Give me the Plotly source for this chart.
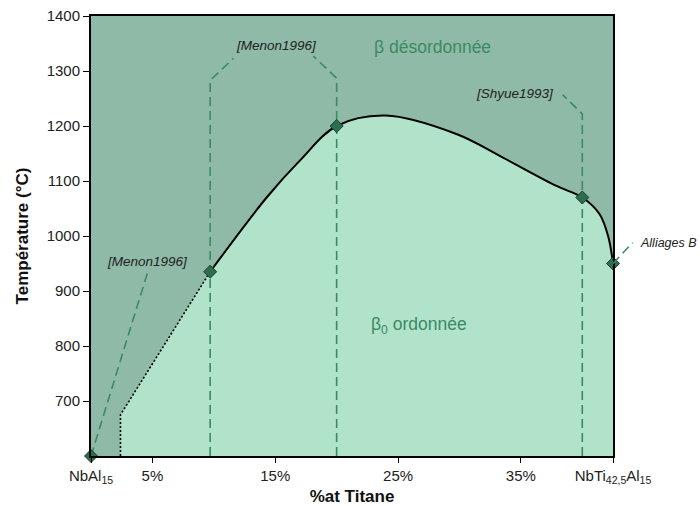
import plotly.graph_objects as go

# Boundary between disordered beta and ordered beta0 (%at Ti, temperature in degC)
curve_x = [9.7, 14.3, 17.0, 20.0, 24.0, 29.8, 33.5, 37.9, 40.0, 41.4, 42.1, 42.5]
curve_t = [935, 1070, 1137, 1200, 1219, 1185, 1143, 1091, 1070, 1040, 1000, 950]

# Extrapolated low-titanium part of the boundary
dotted_x = [2.4, 2.4, 9.7]
dotted_t = [600, 675, 935]

# Measured points
point_x = [0, 9.7, 20, 40, 42.5]
point_t = [600, 935, 1200, 1070, 950]

# Reference callouts: dashed guide polylines and their labels
guide_menon_low_x = [0, 4.6]
guide_menon_low_t = [600, 933]
guide_menon_a_x = [9.7, 9.7, 11.6]
guide_menon_a_t = [600, 1283, 1323]
guide_menon_b_x = [20, 20, 18.1]
guide_menon_b_t = [600, 1287, 1327]
guide_shyue_x = [40, 40, 38.4]
guide_shyue_t = [600, 1222, 1257]
guide_alloys_x = [42.5, 44.1]
guide_alloys_t = [950, 988]

x_tickvals = [0, 5, 15, 25, 35, 42.5]
x_ticktext = ["NbAl<sub>15</sub>", "5%", "15%", "25%", "35%", "NbTi<sub>42,5</sub>Al<sub>15</sub>"]
y_tickvals = [700, 800, 900, 1000, 1100, 1200, 1300, 1400]

X_MIN, X_MAX = 0, 42.5
T_MIN, T_MAX = 600, 1400

DARK_BG = "#8fbaa7"
LIGHT_FILL = "#b1e3cb"
GUIDE = "#3a8a64"
MARK = "#2b6e50"
FONT = "Liberation Sans, Arial, sans-serif"

fig = go.Figure()

# ordered region (light) under the boundary
fig.add_trace(go.Scatter(x=dotted_x, y=dotted_t, mode="lines", fill="tozeroy",
                         fillcolor=LIGHT_FILL, line=dict(color="black", width=1.6, dash="2px,2px"),
                         hoverinfo="skip"))
fig.add_trace(go.Scatter(x=curve_x, y=curve_t, mode="lines", fill="tozeroy",
                         fillcolor=LIGHT_FILL, line=dict(color="rgba(0,0,0,0)", width=0, shape="spline", smoothing=1.0),
                         hoverinfo="skip"))

# dashed guides
for gx, gt in [(guide_menon_low_x, guide_menon_low_t), (guide_menon_a_x, guide_menon_a_t),
               (guide_menon_b_x, guide_menon_b_t), (guide_shyue_x, guide_shyue_t)]:
    fig.add_trace(go.Scatter(x=gx, y=gt, mode="lines",
                             line=dict(color=GUIDE, width=1.6, dash="9px,5px"), hoverinfo="skip"))

# guide leaving the plot area toward the alloy label (paper coordinates, unclipped)
def to_px(v):
    return (v - X_MIN) / (X_MAX - X_MIN)

def to_py(v):
    return (v - T_MIN) / (T_MAX - T_MIN)

fig.add_shape(type="line", xref="paper", yref="paper",
              x0=to_px(guide_alloys_x[0]), y0=to_py(guide_alloys_t[0]),
              x1=to_px(guide_alloys_x[1]), y1=to_py(guide_alloys_t[1]),
              line=dict(color=GUIDE, width=1.6, dash="9px,5px"))

# boundary line
fig.add_trace(go.Scatter(x=curve_x, y=curve_t, mode="lines",
                         line=dict(color="black", width=2, shape="spline", smoothing=1.0),
                         hoverinfo="skip"))

# measured points
fig.add_trace(go.Scatter(x=point_x, y=point_t, mode="markers", cliponaxis=False,
                         marker=dict(symbol="diamond", size=10, color=MARK,
                                     line=dict(color="#1c3b2c", width=1)),
                         hoverinfo="skip"))

ref_font = dict(family=FONT, size=13.5, color="#222222")
fig.add_annotation(x=4.6, y=954, text="<i>[Menon1996]</i>", showarrow=False, font=ref_font)
fig.add_annotation(x=15.1, y=1347, text="<i>[Menon1996]</i>", showarrow=False, font=ref_font)
fig.add_annotation(x=34.5, y=1260, text="<i>[Shyue1993]</i>", showarrow=False, font=ref_font)
fig.add_annotation(x=to_px(44.5), y=to_py(988), xref="paper", yref="paper",
                   text="<i>Alliages B</i>", showarrow=False, xanchor="left",
                   font=dict(family=FONT, size=12.5, color="#222222"))

phase_font = dict(family=FONT, size=17.5, color=GUIDE)
fig.add_annotation(x=27.8, y=1343, text="β désordonnée", showarrow=False, font=phase_font)
fig.add_annotation(x=26.7, y=838, text="β<sub>0</sub> ordonnée", showarrow=False, font=phase_font)

fig.update_layout(
    width=700, height=506,
    margin=dict(l=91, r=87, t=16, b=50),
    paper_bgcolor="white",
    plot_bgcolor=DARK_BG,
    showlegend=False,
    font=dict(family=FONT, size=15, color="#222222"),
)
fig.update_xaxes(range=[X_MIN, X_MAX], tickvals=x_tickvals, ticktext=x_ticktext,
                 showgrid=False, zeroline=False, showline=True, linecolor="black", linewidth=2,
                 mirror=True, ticks="outside", ticklen=5, tickcolor="black", automargin=False,
                 title=dict(text="<b>%at Titane</b>", font=dict(size=17, family=FONT, color="#111111"), standoff=8))
fig.update_yaxes(range=[T_MIN, T_MAX], tickvals=y_tickvals,
                 showgrid=False, zeroline=False, showline=True, linecolor="black", linewidth=2,
                 mirror=True, ticks="outside", ticklen=6, tickcolor="black", automargin=False,
                 title=dict(text="<b>Température (°C)</b>", font=dict(size=17, family=FONT, color="#111111"), standoff=14))

fig.write_html("out.html")
